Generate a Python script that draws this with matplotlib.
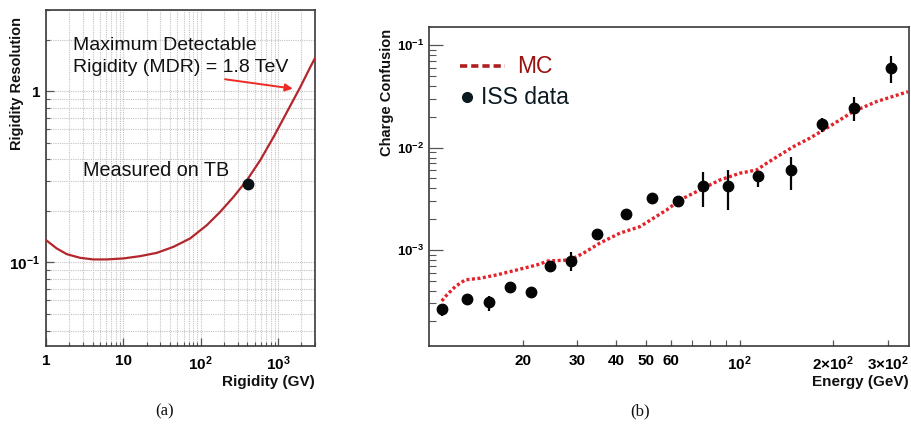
import matplotlib
matplotlib.use("Agg")
import matplotlib.pyplot as plt
from matplotlib.ticker import FixedLocator, FixedFormatter, NullFormatter
import numpy as np

plt.rcParams['font.family'] = ['Liberation Sans', 'DejaVu Sans']
plt.rcParams['mathtext.fontset'] = 'custom'
plt.rcParams['mathtext.rm'] = 'Liberation Sans:bold'
plt.rcParams['mathtext.bf'] = 'Liberation Sans:bold'
plt.rcParams['mathtext.it'] = 'Liberation Sans:bold'
plt.rcParams['mathtext.sf'] = 'Liberation Sans:bold'

# ---------------- Panel (a) data ----------------
rigidity = [1.0, 1.375, 1.853, 2.754, 4.092, 6.10, 10.0, 16.44, 27.04, 44.35,
            72.9, 119.9, 178.2, 264.9, 394.6, 586.6, 872.4, 1299, 1932, 2602,
            3000]
resolution = [0.135, 0.1207, 0.1118, 0.1064, 0.1041, 0.1041, 0.1055, 0.1088,
              0.1137, 0.1233, 0.138, 0.165, 0.1972, 0.2411, 0.3018, 0.3947,
              0.5394, 0.7546, 1.055, 1.38, 1.56]
tb_rigidity = [410]
tb_resolution = [0.289]

# ---------------- Panel (b) data ----------------
energy = [11.0, 13.2, 15.6, 18.2, 21.2, 24.5, 28.7, 34.8, 42.9, 52.3, 63.2,
          76.3, 91.8, 114.2, 145.9, 184.4, 233.6, 306.1]
confusion = [2.65e-4, 3.32e-4, 3.08e-4, 4.38e-4, 3.91e-4, 6.93e-4, 7.86e-4,
             1.44e-3, 2.24e-3, 3.20e-3, 3.03e-3, 4.25e-3, 4.25e-3, 5.32e-3,
             6.05e-3, 1.69e-2, 2.46e-2, 6.05e-2]
err_low = [2.27e-4, 2.90e-4, 2.55e-4, 4.10e-4, 3.47e-4, 6.60e-4, 6.23e-4,
           1.25e-3, 2.15e-3, 2.80e-3, 2.70e-3, 2.61e-3, 2.46e-3, 4.16e-3,
           3.86e-3, 1.43e-2, 1.80e-2, 4.26e-2]
err_high = [2.97e-4, 3.70e-4, 3.57e-4, 4.60e-4, 4.20e-4, 7.20e-4, 9.50e-4,
            1.60e-3, 2.35e-3, 3.40e-3, 3.34e-3, 5.82e-3, 6.05e-3, 5.78e-3,
            8.17e-3, 1.95e-2, 3.11e-2, 7.87e-2]

mc_energy = [10.97, 11.39, 12.11, 13.04, 14.58, 16.50, 19.13, 22.20, 24.18,
             28.39, 31.34, 35.49, 41.15, 47.73, 52.68, 58.15, 64.20, 74.45,
             86.33, 100.1, 113.3, 122.1, 134.8, 148.7, 168.3, 190.5, 232.0,
             275.9, 348.1]
mc_confusion = [3.17e-4, 3.63e-4, 4.37e-4, 5.09e-4, 5.29e-4, 5.70e-4, 6.37e-4,
                7.13e-4, 7.80e-4, 7.98e-4, 9.28e-4, 1.17e-3, 1.46e-3, 1.69e-3,
                2.04e-3, 2.46e-3, 3.08e-3, 3.86e-3, 4.83e-3, 5.62e-3, 6.05e-3,
                7.04e-3, 8.49e-3, 1.02e-2, 1.24e-2, 1.55e-2, 2.25e-2, 2.82e-2,
                3.52e-2]

xb_ticks = [20, 30, 40, 50, 60, 100, 200, 300]
xb_labels = ['20', '30', '40', '50', '60', r'$10^{2}$', r'$2{\times}10^{2}$', r'$3{\times}10^{2}$']

W, H = 912, 428
fig = plt.figure(figsize=(W / 100, H / 100), dpi=100)

def rect(l, t, r, b):
    return [l / W, 1 - b / H, (r - l) / W, (b - t) / H]

def fx(x):
    return x / W

def fy(y):
    return 1 - y / H

spine_col = '#3a3a3a'

# ================= Panel (a) =================
axa = fig.add_axes(rect(46, 9.5, 315, 346))
axa.set_xscale('log')
axa.set_yscale('log')
axa.set_xlim(1, 3000)
axa.set_ylim(0.0325, 3.0)
axa.grid(True, which='both', color='#c4c4c4', linestyle=(0, (1, 1)), linewidth=0.8)
axa.set_axisbelow(True)
axa.plot(rigidity, resolution, color='#b3262b', lw=1.6, zorder=3,
         solid_joinstyle='round', solid_capstyle='round')
axa.plot(tb_rigidity, tb_resolution, 'o', color='#0b1216', ms=7.5, zorder=4)

axa.xaxis.set_major_locator(FixedLocator([1, 10, 100, 1000]))
axa.xaxis.set_major_formatter(FixedFormatter(['1', '10', r'$10^{2}$', r'$10^{3}$']))
axa.xaxis.set_minor_locator(FixedLocator([m * d for d in [1, 10, 100, 1000] for m in range(2, 10) if m * d <= 3000]))
axa.xaxis.set_minor_formatter(NullFormatter())
axa.yaxis.set_major_locator(FixedLocator([0.1, 1]))
axa.yaxis.set_major_formatter(FixedFormatter([r'$10^{-1}$', '1']))
axa.yaxis.set_minor_locator(FixedLocator([m * d for d in [0.01, 0.1, 1] for m in range(2, 10) if 0.0325 <= m * d <= 3]))
axa.yaxis.set_minor_formatter(NullFormatter())
axa.tick_params(which='major', direction='in', length=6, width=0.9, color='#555555')
axa.tick_params(which='minor', direction='in', length=3, width=0.8, color='#555555')
axa.tick_params(axis='x', which='major', pad=6, labelsize=11)
axa.tick_params(axis='y', which='major', pad=4, labelsize=11)
for lab in axa.get_xticklabels() + axa.get_yticklabels():
    lab.set_fontweight('bold')
for s in axa.spines.values():
    s.set_color(spine_col)
    s.set_linewidth(1.2)

fig.text(fx(73), fy(50), 'Maximum Detectable', fontsize=14, va='baseline', ha='left',
         color='#111111')
fig.text(fx(73), fy(72.5), 'Rigidity (MDR) = 1.8 TeV', fontsize=14, va='baseline',
         ha='left', color='#111111')
fig.text(fx(83), fy(175.5), 'Measured on TB', fontsize=14.2, va='baseline', ha='left',
         color='#111111')
axa.annotate('', xy=(1680, 1.03), xytext=(190, 1.18),
             arrowprops=dict(arrowstyle='-|>', color='#ee2a24', lw=1.4,
                             mutation_scale=11))
fig.text(fx(17), fy(83), 'Rigidity Resolution', rotation=90, ha='center', va='center',
         fontsize=10.5, fontweight='bold', color='#111111')
fig.text(fx(315), fy(382), 'Rigidity (GV)', ha='right', va='center',
         fontsize=11, fontweight='bold', color='#111111')

# ================= Panel (b) =================
axb = fig.add_axes(rect(429.3, 27.3, 908.7, 346))
axb.set_xscale('log')
axb.set_yscale('log')
axb.set_xlim(10, 350)
axb.set_ylim(1.15e-4, 0.15)

c = np.array(confusion)
yerr = [c - np.array(err_low), np.array(err_high) - c]
axb.errorbar(energy, confusion, yerr=yerr, fmt='o', color='#050505', ms=7.5,
             elinewidth=1.6, capsize=0, zorder=4)
axb.plot(mc_energy, mc_confusion, color='#e3232a', lw=2.4, linestyle=(0, (0.9, 0.75)),
         zorder=3)

axb.xaxis.set_major_locator(FixedLocator(xb_ticks))
axb.xaxis.set_major_formatter(FixedFormatter(xb_labels))
axb.xaxis.set_minor_locator(FixedLocator([70, 80, 90]))
axb.xaxis.set_minor_formatter(NullFormatter())
axb.yaxis.set_major_locator(FixedLocator([1e-3, 1e-2, 1e-1]))
axb.yaxis.set_major_formatter(FixedFormatter([r'$10^{-3}$', r'$10^{-2}$', r'$10^{-1}$']))
axb.yaxis.set_minor_locator(FixedLocator([m * d for d in [1e-4, 1e-3, 1e-2, 1e-1] for m in range(2, 10) if 1.15e-4 <= m * d <= 0.15]))
axb.yaxis.set_minor_formatter(NullFormatter())
axb.tick_params(axis='y', which='major', direction='in', length=10, width=0.9, color='#555555', pad=3.5, labelsize=9.5)
axb.tick_params(axis='y', which='minor', direction='in', length=5, width=0.8, color='#555555')
axb.tick_params(axis='x', which='major', direction='in', length=4, width=0.9, color='#555555', pad=6, labelsize=11)
axb.tick_params(axis='x', which='minor', direction='in', length=4, width=0.8, color='#555555')
for lab in axb.get_xticklabels() + axb.get_yticklabels():
    lab.set_fontweight('bold')
for s in axb.spines.values():
    s.set_color(spine_col)
    s.set_linewidth(1.2)

# legend drawn by hand in axes fraction
axb.plot([0.064, 0.158], [0.878, 0.878], transform=axb.transAxes, color='#b01e1e',
         lw=2.6, linestyle=(0, (2.0, 1.1)), clip_on=False)
axb.text(0.183, 0.878, 'MC', transform=axb.transAxes, fontsize=16.5, color='#9a1111',
         va='center', ha='left')
axb.plot([0.079], [0.78], 'o', transform=axb.transAxes, color='#0b1a20', ms=7)
axb.text(0.108, 0.78, 'ISS data', transform=axb.transAxes, fontsize=16.5, color='#0b1a20',
         va='center', ha='left')

fig.text(fx(387), fy(92), 'Charge Confusion', rotation=90, ha='center', va='center',
         fontsize=10.5, fontweight='bold', color='#111111')
fig.text(fx(908.7), fy(382), 'Energy (GeV)', ha='right', va='center',
         fontsize=11, fontweight='bold', color='#111111')

fig.text(fx(165), fy(411), '(a)', ha='center', va='center', fontsize=12,
         family='Liberation Serif', color='#111111')
fig.text(fx(640), fy(411), '(b)', ha='center', va='center', fontsize=12,
         family='Liberation Serif', color='#111111')

fig.savefig('out.png', dpi=100)
